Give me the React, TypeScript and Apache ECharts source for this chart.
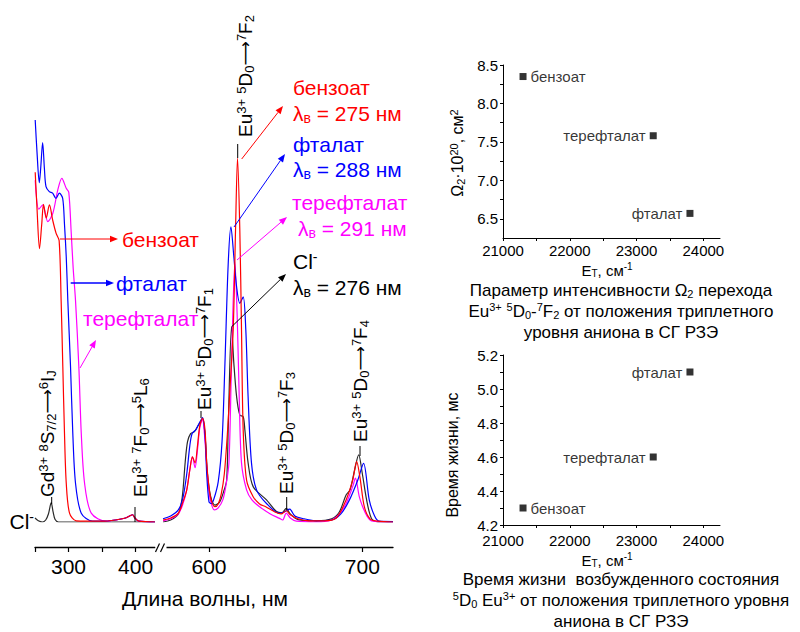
import React, { useEffect, useRef } from "react";
import * as echarts from "echarts";

const FONT = '"Liberation Sans", Arial, Helvetica, sans-serif';

// ---------- Excitation spectra (left part), relative intensity ----------
const benzoateExc: number[][] = [
  [250.3, 87], [253, 78], [256.7, 68], [260, 74], [262.7, 79], [266.7, 75.6], [271.5, 78.9],
  [276.5, 75], [281.5, 71.8], [286, 70], [289, 55], [291.5, 38.6], [294, 22], [296.6, 9.7],
  [301.5, 2.2], [311.5, 0.3], [350, 0.2], [370, 0.5], [385, 1.0], [395.5, 1.8], [399, 1.0],
  [405, 0.2], [429, 0],
];
const phthalateExc: number[][] = [
  [250.3, 100], [253, 92], [256.4, 84.4], [258.5, 88], [261.4, 94.4], [264, 88], [266.4, 83.4],
  [271.3, 82.2], [276.3, 81.8], [281.3, 80.5], [286.3, 81.8], [291.3, 80.5], [294, 74],
  [296.6, 66], [299, 55], [303, 38.6], [306.4, 22], [310.4, 9.7], [319, 2.2], [336, 0.2],
  [350, 0.2], [370, 0.5], [385, 1.0], [395.5, 1.8], [399, 1.0], [405, 0.2], [429, 0],
];
const terephthalateExc: number[][] = [
  [250.3, 85], [255.7, 77.8], [261.6, 78.9], [269.1, 74.7], [276.6, 76.8], [284, 82.6],
  [290, 85.5], [296.6, 83], [300.4, 82], [304, 72], [307, 63], [310.4, 55.2], [315.4, 38.6],
  [319, 22.1], [323.9, 9.7], [333.9, 2.2], [356, 0.2], [370, 0.5], [385, 1.0], [395.5, 1.8],
  [399, 1.0], [405, 0.2], [429, 0],
];
const chlorideExc: number[][] = [
  [250, 1], [255, 0.3], [261, 0], [266, 0.5], [270, 2], [274.2, 4.8], [277, 2.5], [280, 0.6],
  [285, 0], [300, 0], [429, 0],
];

// ---------- Emission spectra (right part) ----------
const benzoateEm: number[][] = [
  [570, 0.5], [575, 1], [580, 2.2], [583, 5], [585.5, 8], [587.5, 13], [589.2, 16.2],
  [590.9, 14.7], [592.5, 19], [594, 24], [595.8, 25.8], [597.4, 22.9], [598.5, 14.6],
  [600.2, 8], [601.8, 5], [603.9, 3.8], [606, 4.5], [608, 7], [610, 12], [612, 22], [613.5, 32],
  [615.8, 48], [617.3, 72.6], [618.6, 90.5], [620.1, 72.6], [621.2, 47.8], [622.3, 22.9],
  [624.5, 10.4], [628.8, 6.3], [633, 4.5], [637, 3.8], [643, 2.5], [647, 2], [650.4, 2.8],
  [653, 1.8], [658, 0.8], [665, 0.3], [675, 0.3], [683, 1], [689.4, 5.5], [693.7, 10.4],
  [696.3, 15], [698.5, 11], [701.3, 3.8], [705, 0.8], [710, 0.2], [720, 0],
];
const phthalateEm: number[][] = [
  [570, 0.8], [575, 1.5], [580, 3], [583, 6], [585.5, 12], [587.5, 19], [589, 22], [591.5, 23],
  [593.5, 24.5], [595.8, 26], [597.5, 21], [598.5, 12], [600, 5], [601.5, 4.6], [603, 5.5],
  [606, 10], [608.5, 20], [610.4, 39.5], [612.5, 64], [614.3, 73.4], [616.2, 66], [618, 58.5],
  [620.1, 54.4], [622.3, 56], [624, 47.8], [625.5, 31.2], [627.7, 14.7], [631, 8],
  [637.5, 4.6], [646, 2.2], [649, 2.5], [652.6, 3.2], [656, 1.5], [662, 0.8], [670, 0.3],
  [680, 0.5], [686, 2], [691.6, 5.5], [697, 10.4], [700.8, 14.6], [704.5, 5.5], [708, 1.5],
  [711, 0.2], [720, 0.1],
];
const terephthalateEm: number[][] = [
  [570, 0.3], [575, 0.8], [580, 2], [583, 4.5], [585.5, 8], [587.5, 13], [589.2, 16.2],
  [590.9, 13.5], [592.5, 18], [594, 23.5], [595.8, 25.5], [597, 22], [598.5, 14], [600, 7.5],
  [601.5, 4.5], [603.5, 3], [606, 3.5], [609, 5.5], [611, 9], [613, 14.7], [614.7, 39.5],
  [616.9, 64.8], [618.4, 51], [619.7, 31.2], [621.2, 14.7], [624.5, 8], [628, 5.5], [633, 3.8],
  [640, 2], [646, 0.9], [648, 0.5], [650.4, 2.2], [653, 1], [657, 0.2], [670, 0], [680, 0.5],
  [685, 2], [689.4, 4.6], [693.7, 8.8], [695.5, 10.9], [698, 6.3], [700.2, 3.8], [703, 1.5],
  [706, 0.3], [720, 0],
];
const chlorideEm: number[][] = [
  [570, 0], [575, 0.5], [580, 2], [582.5, 6], [584.5, 15], [586, 20], [588, 22], [590.5, 22.5],
  [593, 24], [595.8, 25.5], [597.5, 21], [599, 12], [601, 6.5], [603.9, 4.2], [607, 5],
  [609.5, 7.5], [611.5, 10.4], [612.5, 22.9], [614.7, 48.6], [616.2, 39.5], [618, 31.2],
  [620.1, 26.6], [622.3, 26.2], [623.4, 22.9], [625.5, 14.7], [628.8, 8.8], [637.5, 5.5],
  [644, 2.6], [647.5, 2.3], [650.4, 3.4], [653, 2], [658, 0.6], [670, 0.3], [680, 0.8],
  [685, 2.5], [689.4, 6.7], [692, 8], [695, 13], [697.6, 16.7], [700, 12], [702.4, 6.3],
  [704.5, 2.5], [706.7, 0.5], [712, 0], [720, 0],
];

const excTicks = [250, 300, 350, 400];
const excLabels = [300, 400];
const emTicks = [600, 650, 700];
const emLabels = [600, 700];

// ---------- Scatter panels ----------
const anions = ["бензоат", "терефталат", "фталат"];
const tripletEnergy = [21300, 23250, 23800];
const omega2 = [8.35, 7.58, 6.57];
const lifetime = [4.3, 4.6, 5.1];
const energyTicks = [21000, 21500, 22000, 22500, 23000, 23500, 24000];
const energyLabels = [21000, 22000, 23000, 24000];
const omegaTicks = [6.5, 6.75, 7, 7.25, 7.5, 7.75, 8, 8.25, 8.5];
const omegaLabels = [6.5, 7, 7.5, 8, 8.5];
const lifeTicks = [4.2, 4.3, 4.4, 4.5, 4.6, 4.7, 4.8, 4.9, 5.0, 5.1, 5.2];
const lifeLabels = [4.2, 4.4, 4.6, 4.8, 5.0, 5.2];

const RED = "#ff0000";
const BLUE = "#0000ff";
const MAG = "#ff00ff";
const BLK = "#2a2a2a";

function rich(markup: string): string {
  let out = "";
  let buf = "";
  let i = 0;
  const flush = () => {
    if (buf) {
      out += `{n|${buf}}`;
      buf = "";
    }
  };
  while (i < markup.length) {
    const c = markup[i];
    if ((c === "^" || c === "_") && markup[i + 1] === "{") {
      flush();
      const end = markup.indexOf("}", i + 2);
      out += `{${c === "^" ? "p" : "b"}|${markup.slice(i + 2, end)}}`;
      i = end + 1;
    } else if (c === "⟶") {
      flush();
      out += `{a|⟶}`;
      i++;
    } else {
      buf += c;
      i++;
    }
  }
  flush();
  return out;
}

function richStyles(size: number, color: string) {
  const small = Math.round(size * 0.66);
  return {
    n: { fontSize: size, fontFamily: FONT, fill: color, lineHeight: Math.round(size * 1.1) },
    a: { fontSize: Math.round(size * 0.9), fontFamily: "DejaVu Sans", fill: color, lineHeight: Math.round(size * 1.1) },
    p: { fontSize: small, fontFamily: FONT, fill: color, lineHeight: small, verticalAlign: "top" },
    b: { fontSize: small, fontFamily: FONT, fill: color, lineHeight: small, verticalAlign: "bottom" },
  };
}

function txt(x: number, y: number, markup: string, size: number, color: string, align = "left", rot = 0) {
  return {
    type: "text",
    x,
    y,
    rotation: rot,
    z: 100,
    style: {
      text: rich(markup),
      rich: richStyles(size, color),
      fontSize: size,
      fontFamily: FONT,
      fill: color,
      textAlign: align,
      textVerticalAlign: "middle",
      verticalAlign: "middle",
    },
  };
}

function seg(x1: number, y1: number, x2: number, y2: number, color: string, w = 1) {
  return { type: "line", z: 100, shape: { x1, y1, x2, y2 }, style: { stroke: color, lineWidth: w } };
}

function arrow(x1: number, y1: number, x2: number, y2: number, color: string, w = 1) {
  const a = Math.atan2(y2 - y1, x2 - x1);
  const hl = 8;
  const hw = 3.2;
  const bx = x2 - hl * Math.cos(a);
  const by = y2 - hl * Math.sin(a);
  const px = -Math.sin(a) * hw;
  const py = Math.cos(a) * hw;
  return [
    seg(x1, y1, bx, by, color, w),
    {
      type: "polygon",
      z: 100,
      shape: { points: [[x2, y2], [bx + px, by + py], [bx - px, by - py]] },
      style: { fill: color },
    },
  ];
}

const R90 = Math.PI / 2;

function buildGraphic() {
  const g: any[] = [];
  // axis break
  g.push({ type: "rect", z: 100, shape: { x: 155.5, y: 540, width: 11, height: 14 }, style: { fill: "#fff" } });
  g.push(seg(155.5, 552, 159.5, 543.5, "#000", 1.2));
  g.push(seg(160.5, 552, 164.5, 543.5, "#000", 1.2));

  // left labels and arrows
  g.push(...arrow(60, 239, 118, 239, RED));
  g.push(txt(122, 239, "бензоат", 21, RED));
  g.push(...arrow(70.7, 283, 114, 283, BLUE, 1.5));
  g.push(txt(116, 283, "фталат", 21, BLUE));
  g.push(...arrow(80, 368, 96, 340, MAG));
  g.push(txt(83, 318, "терефталат", 21, MAG));
  g.push(txt(34, 521, "Cl^{-}", 21, "#000", "right"));

  // right labels and arrows
  g.push(...arrow(241.7, 159, 283, 106, RED));
  g.push(txt(293, 87, "бензоат", 21, RED));
  g.push(txt(293, 113, "λ_{в} = 275 нм", 21, RED));
  g.push(...arrow(234, 227, 285, 154, BLUE));
  g.push(txt(293, 144, "фталат", 21, BLUE));
  g.push(txt(293, 169, "λ_{в} = 288 нм", 21, BLUE));
  g.push(...arrow(237, 260, 287, 217, MAG));
  g.push(txt(292, 202, "терефталат", 21, MAG));
  g.push(txt(298, 228, "λ_{в} = 291 нм", 21, MAG));
  g.push(...arrow(231.7, 326.7, 286, 274, "#000"));
  g.push(txt(293, 261, "Cl^{-}", 21, "#000"));
  g.push(txt(293, 287, "λ_{в} = 276 нм", 21, "#000"));

  // transition labels (rotated)
  const S = 19;
  g.push(txt(47, 497, "Gd^{3+} ^{8}S_{7/2}⟶^{6}I_{J}", S, "#000", "left", R90));
  g.push(seg(51.7, 497, 51.7, 504, "#000"));
  g.push(txt(140, 497, "Eu^{3+} ^{7}F_{0}⟶^{5}L_{6}", S, "#000", "left", R90));
  g.push(seg(135, 507, 135, 522, "#000"));
  g.push(txt(204, 410, "Eu^{3+} ^{5}D_{0}⟶^{7}F_{1}", S, "#000", "left", R90));
  g.push(seg(201, 411, 201, 418, "#000"));
  g.push(txt(245, 137, "Eu^{3+} ^{5}D_{0}⟶^{7}F_{2}", S, "#000", "left", R90));
  g.push(seg(237.7, 144, 237.7, 158, "#000"));
  g.push(txt(286, 494, "Eu^{3+} ^{5}D_{0}⟶^{7}F_{3}", S, "#000", "left", R90));
  g.push(seg(286.7, 497, 286.7, 510, "#000"));
  g.push(txt(360, 442, "Eu^{3+} ^{5}D_{0}⟶^{7}F_{4}", S, "#000", "left", R90));
  g.push(seg(360, 446, 360, 456, "#000"));

  g.push(txt(205, 598, "Длина волны, нм", 21, "#000", "center"));

  // right panels: axis names and captions
  g.push(txt(457, 153, "Ω_{2}·10^{20}, см^{2}", 16, "#000", "center", R90));
  g.push(txt(607, 270, "E_{T}, см^{-1}", 15, "#000", "center"));
  g.push(txt(621, 290, "Параметр интенсивности Ω_{2} перехода", 17, "#000", "center"));
  g.push(txt(621, 311, "Eu^{3+} ^{5}D_{0}-^{7}F_{2} от положения триплетного", 17, "#000", "center"));
  g.push(txt(621, 332, "уровня аниона в СГ РЗЭ", 17, "#000", "center"));

  g.push(txt(452, 455, "Время жизни, мс", 16, "#000", "center", R90));
  g.push(txt(607, 560, "E_{T}, см^{-1}", 15, "#000", "center"));
  g.push(txt(621, 579, "Время жизни  возбужденного состояния", 17, "#000", "center"));
  g.push(txt(621, 600, "^{5}D_{0} Eu^{3+} от положения триплетного уровня", 17, "#000", "center"));
  g.push(txt(621, 621, "аниона в СГ РЗЭ", 17, "#000", "center"));
  return g;
}

function specXAxis(grid: number, min: number, max: number, ticks: number[], labels: number[]) {
  return {
    type: "value",
    gridIndex: grid,
    min,
    max,
    offset: 25,
    axisLine: { show: true, onZero: false, lineStyle: { color: "#000", width: 1.3 } },
    splitLine: { show: false },
    axisTick: { show: true, customValues: ticks, length: 5, lineStyle: { color: "#000", width: 1.2 } },
    axisLabel: { customValues: labels, fontSize: 21, fontFamily: FONT, color: "#000", margin: 9 },
  };
}

function scatterXAxis(grid: number, margin: number) {
  return {
    type: "value",
    gridIndex: grid,
    min: 21000,
    max: 24250,
    axisLine: { show: true, onZero: false, lineStyle: { color: "#000", width: 1 } },
    splitLine: { show: false },
    axisTick: { show: true, customValues: energyTicks, length: 3, lineStyle: { color: "#000" } },
    axisLabel: {
      customValues: energyLabels,
      fontSize: 15,
      fontFamily: FONT,
      color: "#000",
      margin,
      formatter: (v: number) => String(v),
    },
  };
}

function scatterYAxis(grid: number, min: number, max: number, ticks: number[], labels: number[]) {
  return {
    type: "value",
    gridIndex: grid,
    min,
    max,
    axisLine: { show: true, onZero: false, lineStyle: { color: "#000", width: 1 } },
    splitLine: { show: false },
    axisTick: { show: true, customValues: ticks, length: 3, lineStyle: { color: "#000" } },
    axisLabel: {
      customValues: labels,
      fontSize: 15,
      fontFamily: FONT,
      color: "#000",
      margin: 5,
      formatter: (v: number) => v.toFixed(1),
    },
  };
}

function lineSeries(grid: number, data: number[][], color: string) {
  return {
    type: "line",
    xAxisIndex: grid,
    yAxisIndex: grid,
    data,
    showSymbol: false,
    smooth: 0.3,
    lineStyle: { color, width: 1.2 },
    itemStyle: { color },
  };
}

function scatterSeries(grid: number, values: number[], rightOf: string) {
  return {
    type: "scatter",
    xAxisIndex: grid,
    yAxisIndex: grid,
    symbol: "rect",
    symbolSize: 7,
    itemStyle: { color: "#000" },
    data: anions.map((name, i) => ({
      name,
      value: [tripletEnergy[i], values[i]],
      label: { position: name === rightOf ? "right" : "left" },
    })),
    label: {
      show: true,
      formatter: (p: any) => p.name,
      fontSize: 15,
      fontFamily: FONT,
      color: "#000",
      distance: 4,
    },
  };
}

export default function App() {
  const ref = useRef<HTMLDivElement>(null);
  useEffect(() => {
    if (!ref.current) return;
    const chart = echarts.init(ref.current, null, { renderer: "svg" });
    chart.setOption({
      animation: false,
      backgroundColor: "#fff",
      textStyle: { fontFamily: FONT },
      grid: [
        { left: 35, top: 120, width: 120, height: 402 },
        { left: 163, top: 120, width: 230, height: 402 },
        { left: 503, top: 65, width: 217, height: 173 },
        { left: 503, top: 355, width: 217, height: 170 },
      ],
      xAxis: [
        specXAxis(0, 250, 429, excTicks, excLabels),
        specXAxis(1, 570, 720, emTicks, emLabels),
        scatterXAxis(2, 5),
        scatterXAxis(3, 8),
      ],
      yAxis: [
        { type: "value", gridIndex: 0, min: 0, max: 100, show: false },
        { type: "value", gridIndex: 1, min: 0, max: 100, show: false },
        scatterYAxis(2, 6.25, 8.5, omegaTicks, omegaLabels),
        scatterYAxis(3, 4.2, 5.2, lifeTicks, lifeLabels),
      ],
      series: [
        lineSeries(0, chlorideExc, BLK),
        lineSeries(0, terephthalateExc, MAG),
        lineSeries(0, phthalateExc, BLUE),
        lineSeries(0, benzoateExc, RED),
        lineSeries(1, chlorideEm, BLK),
        lineSeries(1, terephthalateEm, MAG),
        lineSeries(1, phthalateEm, BLUE),
        lineSeries(1, benzoateEm, RED),
        scatterSeries(2, omega2, "бензоат"),
        scatterSeries(3, lifetime, "бензоат"),
      ],
      graphic: buildGraphic(),
    });
    return () => chart.dispose();
  }, []);
  return (
    <div
      ref={ref}
      style={{ position: "fixed", left: 0, top: 0, width: 800, height: 632, background: "#fff" }}
    />
  );
}
